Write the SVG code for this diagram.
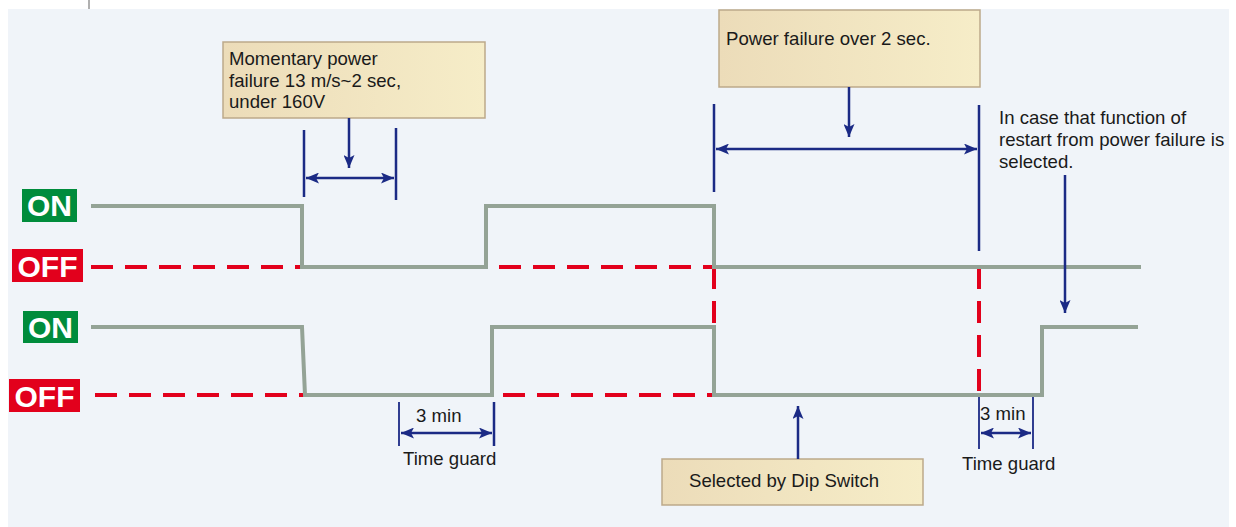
<svg xmlns="http://www.w3.org/2000/svg" width="1236" height="527" viewBox="0 0 1236 527">
<defs>
<linearGradient id="boxg" x1="0" y1="0" x2="1" y2="0">
<stop offset="0" stop-color="#ecdcb9"/>
<stop offset="1" stop-color="#f6edc8"/>
</linearGradient>
<marker id="ah" viewBox="0 0 13 11" refX="13" refY="5.5" markerWidth="13" markerHeight="11" markerUnits="userSpaceOnUse" orient="auto-start-reverse">
<path d="M0,0 L13,5.5 L0,11 L3,5.5 Z" fill="#1b2a85"/>
</marker>
<style>
.bg{fill:#f0f4f9}
.box{fill:url(#boxg);stroke:#bca98a;stroke-width:1.5}
.t{font-family:"Liberation Sans",Arial,sans-serif;font-size:18.6px;fill:#1a1a1a}
.lab{font-family:"Liberation Sans",Arial,sans-serif;font-size:30px;font-weight:bold;fill:#ffffff;text-anchor:middle}
.on{fill:#008c3c}
.off{fill:#e2001c}
.sig{fill:none;stroke:#94a396;stroke-width:4}
.dash{fill:none;stroke:#e2001c;stroke-width:4;stroke-dasharray:22 12}
.nv{stroke:#1b2a85;stroke-width:2.5;fill:none}
.ar{stroke:#1b2a85;stroke-width:2.5;fill:none;marker-end:url(#ah)}
.dar{stroke:#1b2a85;stroke-width:2.5;fill:none;marker-start:url(#ah);marker-end:url(#ah)}
</style>
</defs>
<rect x="0" y="0" width="1236" height="527" fill="#ffffff"/>
<rect class="bg" x="8" y="9" width="1221" height="518"/>
<line x1="89" y1="0" x2="89" y2="9" stroke="#b0b0b0" stroke-width="2"/>

<g id="labels">
<g id="on1"><rect class="on" x="22" y="189" width="55" height="33"/><text class="lab" x="49.5" y="216">ON</text></g>
<g id="off1"><rect class="off" x="12" y="249" width="71" height="33"/><text class="lab" x="47.5" y="277">OFF</text></g>
<g id="on2"><rect class="on" x="23" y="311" width="55" height="32"/><text class="lab" x="50.5" y="338">ON</text></g>
<g id="off2"><rect class="off" x="9" y="379" width="71" height="33"/><text class="lab" x="44.5" y="407">OFF</text></g>
</g>

<g id="offlines">
<path class="dash" d="M91,267 H979"/>
<path class="dash" d="M95,395 H979"/>
<path class="dash" d="M714,267 V395"/>
<path class="dash" d="M979,267 V395"/>
</g>

<g id="signals">
<path id="signal1" class="sig" d="M91,206 H302 V267 H486 V206 H714 V267 H1141"/>
<path id="signal2" class="sig" d="M91,327 H302 L305,395 H492 V327 H714 V395 H1042 V327 H1138"/>
</g>

<g id="box1">
<rect class="box" x="223" y="42" width="262" height="76"/>
<text class="t" x="229" y="65">Momentary power</text>
<text class="t" x="229" y="87">failure 13 m/s~2 sec,</text>
<text class="t" x="229" y="108">under 160V</text>
</g>

<g id="box2">
<rect class="box" x="719" y="10" width="261" height="77"/>
<text class="t" x="726" y="45">Power failure over 2 sec.</text>
</g>

<g id="box3">
<rect class="box" x="662" y="459" width="261" height="46"/>
<text class="t" x="689" y="487">Selected by Dip Switch</text>
</g>

<g id="note">
<text class="t" x="999" y="124">In case that function of</text>
<text class="t" x="999" y="146">restart from power failure is</text>
<text class="t" x="999" y="168">selected.</text>
</g>

<g id="tg1">
<text class="t" x="416" y="422">3 min</text>
<text class="t" x="403" y="465">Time guard</text>
</g>
<g id="tg2">
<text class="t" x="980" y="420">3 min</text>
<text class="t" x="962" y="470">Time guard</text>
</g>

<g id="connectors">
<line class="nv" x1="304" y1="130" x2="304" y2="197"/>
<line class="nv" x1="396" y1="128" x2="396" y2="200"/>
<line class="ar" x1="349" y1="118" x2="349" y2="168"/>
<line class="dar" x1="306" y1="178" x2="394" y2="178"/>

<line class="nv" x1="714" y1="104" x2="714" y2="192"/>
<line class="nv" x1="979" y1="105" x2="979" y2="251"/>
<line class="ar" x1="849" y1="87" x2="849" y2="137"/>
<line class="dar" x1="716" y1="149" x2="977" y2="149"/>

<line class="ar" x1="1065" y1="175" x2="1065" y2="313"/>

<line class="ar" x1="798" y1="459" x2="798" y2="406"/>

<line class="nv" x1="399" y1="402" x2="399" y2="446" style="stroke-width:1.8"/>
<line class="nv" x1="494" y1="402" x2="494" y2="446"/>
<line class="dar" x1="401" y1="433" x2="492" y2="433"/>

<line class="nv" x1="979" y1="397" x2="979" y2="449" style="stroke-width:1.8"/>
<line class="nv" x1="1033" y1="397" x2="1033" y2="449" style="stroke-width:1.8"/>
<line class="dar" x1="981" y1="433" x2="1031" y2="433"/>
</g>
</svg>
